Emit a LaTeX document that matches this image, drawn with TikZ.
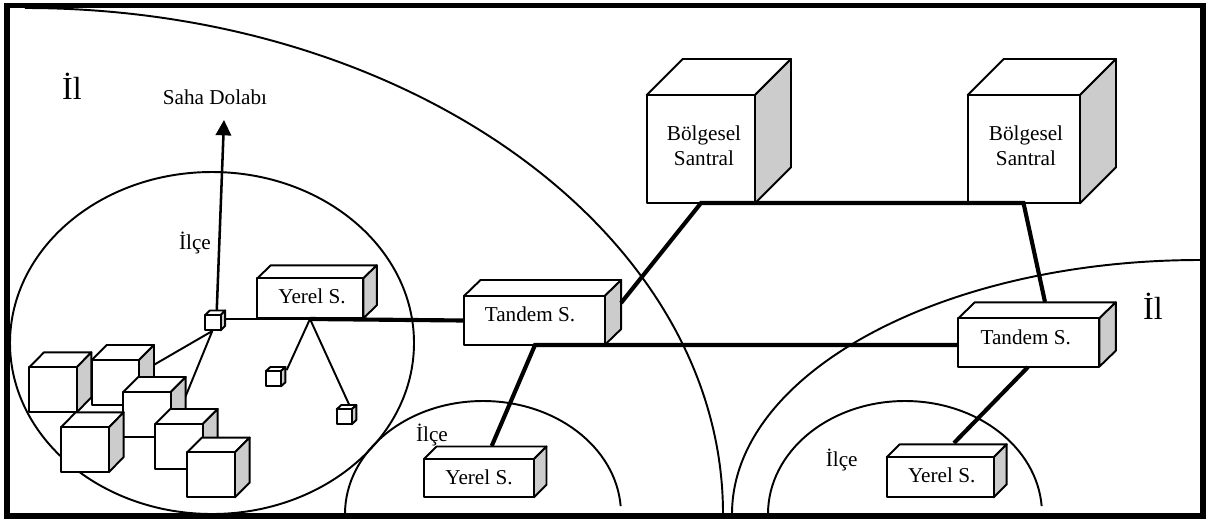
\documentclass[tikz,border=0pt]{standalone}
\usepackage{fontspec}
\setmainfont{Liberation Serif}
\usetikzlibrary{arrows.meta}
\definecolor{sidegray}{HTML}{CCCCCC}
\tikzset{
  thinline/.style={line width=1.45pt,black},
  thickline/.style={line width=3.1pt,black},
  facefill/.style={line width=1.45pt,draw=black,line join=round},
  txt/.style={font=\fontsize{15.9pt}{18.8pt}\selectfont,inner sep=0pt,anchor=base},
  twolines/.style={font=\fontsize{15.9pt}{18.8pt}\selectfont,inner sep=0pt,align=center},
  bigtxt/.style={font=\fontsize{24pt}{28pt}\selectfont,inner sep=0pt,anchor=base},
}
\newcommand\boxcube[7]{%
  \path[facefill,fill=white] (#2,#3)--(#2+#6,#3-#7)--(#4+#6,#3-#7)--(#4,#3)--cycle;
  \path[facefill,fill=sidegray] (#4,#3)--(#4+#6,#3-#7)--(#4+#6,#5-#7)--(#4,#5)--cycle;
  \pgfmathsetlengthmacro\cubew{(#4-#2)*0.75pt}%
  \pgfmathsetlengthmacro\cubeh{(#5-#3)*0.75pt}%
  \node[facefill,fill=white,inner sep=0pt,outer sep=0pt,minimum width=\cubew,minimum height=\cubeh] (#1) at ({(#2+#4)/2},{(#3+#5)/2}) {};
}
\begin{document}
\begin{tikzpicture}[x=0.75pt,y=-0.75pt]
\useasboundingbox (0,0) rectangle (1209,519);
\fill[white] (0,0) rectangle (1209,519);
% region arcs
\draw[thinline] (25,8) arc[start angle=-90,end angle=0,x radius=698,y radius=506];
\draw[thinline] (732,514) arc[start angle=180,end angle=270,x radius=468,y radius=254];
\draw[thinline] (212,343) ellipse[x radius=202,y radius=171];
\draw[thinline] (345,514) arc[start angle=180,end angle=356,x radius=138,y radius=113];
\draw[thinline] (768,514) arc[start angle=180,end angle=356,x radius=137,y radius=113];
% named connector ends
\coordinate (junction) at (310,319);
\coordinate (fieldtip) at (224,120);
\coordinate (hubtop) at (216.7,312);
\coordinate (hubright) at (225,319);
\coordinate (hubbottom) at (212.3,331);
\coordinate (into2) at (145,370);
\coordinate (into3) at (180,410);
\coordinate (ba) at (701,203);
\coordinate (bb) at (1023.5,203);
\coordinate (ta) at (535,345);
\coordinate (tb) at (958,345);
\coordinate (tar) at (621,303);
\coordinate (tbt) at (1045,302);
\coordinate (tbb) at (1028,367);
\coordinate (yb) at (491.7,446);
\coordinate (yc) at (954,443);
\coordinate (sb) at (286.7,370);
\coordinate (sc) at (349.3,405);
% thin connectors under the cubes
\draw[thinline] (hubbottom) -- (into2);
\draw[thinline] (hubbottom) -- (into3);
\draw[thinline] (hubright) -- (junction);
\draw[thinline] (junction) -- (sb);
\draw[thinline] (junction) -- (sc);
\draw[line width=1.9pt,-{Triangle[length=11.5pt,width=11.5pt]}] (hubtop) -- (fieldtip);
% cubes
\boxcube{ca}{29.3}{367.3}{76.7}{412.3}{14.7}{15}
\boxcube{cb}{91.7}{360}{139}{405.3}{15}{15}
\boxcube{cc}{123.3}{392}{170.7}{436.7}{15}{15}
\boxcube{cd}{61}{427.3}{109}{472}{14.7}{15}
\boxcube{ce}{155.3}{424}{202.7}{469.3}{15}{15}
\boxcube{cf}{187.3}{452.3}{235}{497.3}{14.7}{14.7}
\boxcube{hub}{205.3}{315}{220.7}{330.3}{4.5}{4.5}
\boxcube{smb}{266}{371}{281}{386.3}{4.4}{4}
\boxcube{smc}{336.7}{409.3}{351.7}{424.3}{4.6}{4.3}
\boxcube{yerela}{257.3}{278.3}{363.3}{318.3}{13.5}{13}
\boxcube{yerelb}{424}{459}{534}{497.3}{12.5}{12.5}
\boxcube{yerelc}{886.7}{457.3}{993.7}{497.3}{13}{13}
\boxcube{tandema}{464}{296}{604.7}{345}{16.5}{16}
\boxcube{tandemb}{958.3}{318.3}{1099.3}{366.7}{16.5}{16}
\boxcube{bolgea}{646.7}{95}{755}{203.3}{36}{36}
\boxcube{bolgeb}{967.7}{95}{1080}{203.3}{36}{36}
% thick connectors
\draw[thickline] (junction) -- (tandema.west);
\draw[thickline,line join=miter] (tar) -- (ba) -- (bb) -- (tbt);
\draw[thickline] (yb) -- (ta) -- (tb);
\draw[thickline] (tbb) -- (yc);
% labels
\node[txt] (lsaha) at (215,104) {Saha Dolabı};
\node[txt] (lilcea) at (195,249) {İlçe};
\node[txt] (lilceb) at (432,441.7) {İlçe};
\node[txt] (lilcec) at (841.7,466.7) {İlçe};
\node[bigtxt] (lila) at (72,99) {İl};
\node[bigtxt] (lilb) at (1153,319) {İl};
\node[txt] (lya) at (312,303) {Yerel S.};
\node[txt] (lyb) at (479,484) {Yerel S.};
\node[txt] (lyc) at (941.7,482.3) {Yerel S.};
\node[txt] (lta) at (530,321) {Tandem S.};
\node[txt] (ltb) at (1025.7,344) {Tandem S.};
\node[twolines] (lba) at (704,146) {Bölgesel\\Santral};
\node[twolines] (lbb) at (1026,146) {Bölgesel\\Santral};
% frame
\draw[line width=4.3pt,black] (7,5.5) rectangle (1203,516);
\end{tikzpicture}
\end{document}
